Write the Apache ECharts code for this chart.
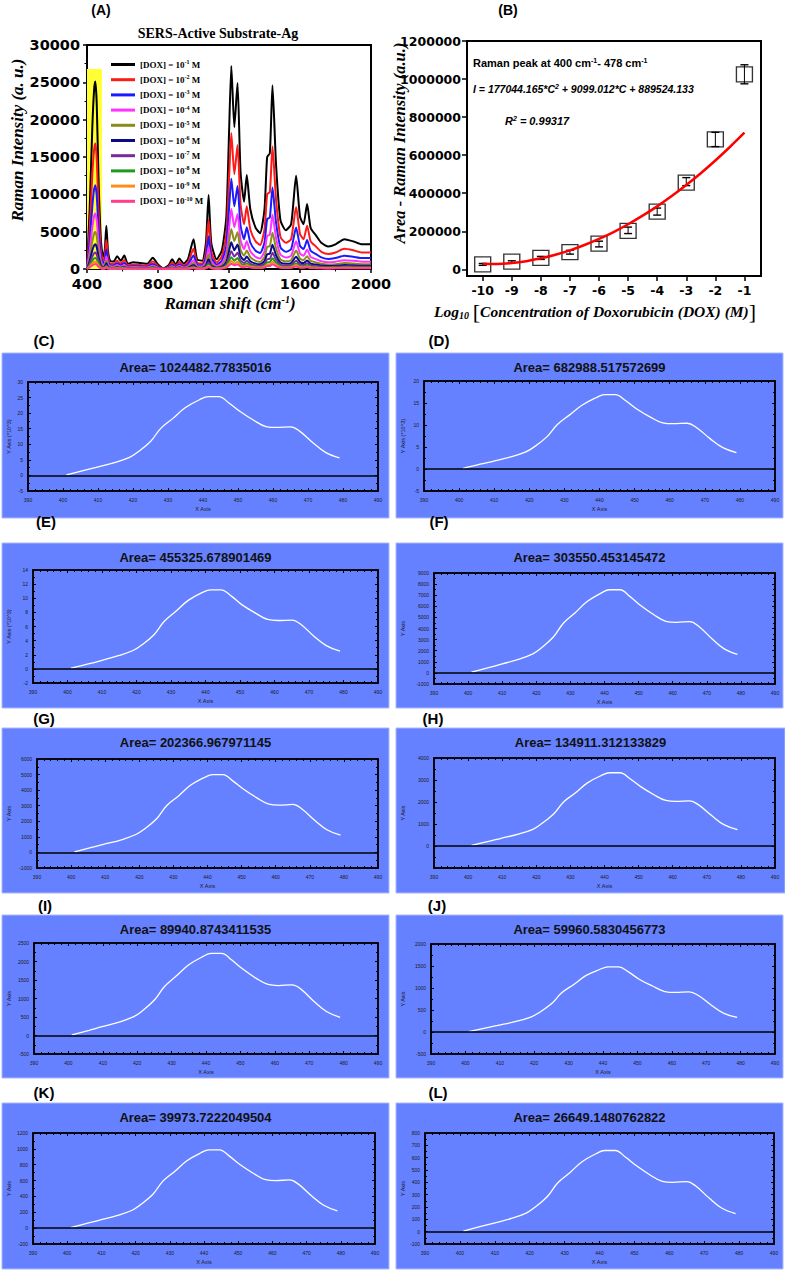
<!DOCTYPE html>
<html><head><meta charset="utf-8">
<script src="https://cdn.jsdelivr.net/npm/echarts@6.0.0/dist/echarts.min.js"></script>
<style>html,body{margin:0;padding:0;background:#fff}#c{width:785px;height:1270px}</style>
</head><body><div id="c"></div>
<script>
// ---------------- DATA ----------------
// Panel A: SERS spectra
const ramanShift = [400,415,430,440,447,455,465,478,490,500,509,518,530,550,570,590,610,630,660,700,740,770,800,830,860,880,900,920,945,970,1000,1020,1050,1070,1085,1100,1130,1160,1185,1200,1213,1230,1248,1265,1285,1300,1320,1350,1375,1400,1415,1430,1445,1465,1490,1520,1550,1578,1600,1620,1640,1660,1690,1720,1760,1800,1850,1900,1950,2000];
const dox1 = [300,8000,19000,24000,25100,22000,12000,4000,1600,2500,5800,2500,1100,1000,1700,1100,1800,700,900,800,700,1500,600,100,500,1300,600,1400,700,1400,4000,1300,1100,3500,9900,3500,1300,2500,7000,18000,27200,19000,24900,13000,9000,12600,8000,5500,4800,8000,15000,15500,24600,14000,6500,5200,6000,12500,7000,6000,8700,5500,4500,3500,3000,3300,4000,3700,3300,3300];
const dox2 = [200,5300,12700,16000,16800,14700,8000,2700,1100,1700,3900,1700,730,670,1100,730,1200,470,600,530,470,1000,400,70,330,870,400,930,470,930,2700,870,730,2300,6600,2300,870,1700,4700,12000,18200,12700,16600,8700,6000,8400,5300,3700,3200,5300,10000,10300,16400,9300,4300,3500,4000,8300,4700,4000,5800,3700,3000,2300,2000,2200,2700,2500,2200,2200];
const dox3 = [130,3550,8400,10700,11200,9800,5300,1800,710,1100,2600,1100,490,440,760,490,800,310,400,360,310,670,270,44,220,580,270,620,310,620,1800,580,490,1550,4400,1550,580,1100,3100,8000,12100,8400,11100,5800,4000,5600,3550,2440,2130,3550,6700,6900,10900,6200,2900,2300,2670,5550,3100,2670,3870,2440,2000,1550,1330,1470,1780,1640,1470,1470];
const dox4 = [90,2370,5600,7100,7430,6500,3550,1180,470,740,1720,740,330,300,500,330,530,210,270,240,210,440,180,30,150,380,180,410,210,410,1180,380,330,1040,2930,1040,380,740,2070,5330,8050,5600,7370,3850,2660,3730,2370,1630,1420,2370,4440,4590,7280,4140,1920,1540,1780,3700,2070,1780,2580,1630,1330,1040,890,980,1180,1100,980,980];
const dox5 = [60,1580,3750,4740,4960,4350,2370,790,320,490,1150,490,220,200,340,220,360,140,180,160,140,300,120,20,100,260,120,280,140,280,790,260,220,690,1960,690,260,490,1380,3560,5370,3750,4920,2570,1780,2490,1580,1090,950,1580,2960,3060,4860,2770,1280,1030,1190,2470,1380,1190,1720,1090,890,690,590,650,790,730,650,650];
const dox6 = [40,1050,2500,3160,3300,2900,1580,530,210,330,760,330,145,130,220,145,240,90,120,105,90,200,80,13,66,170,80,185,90,185,530,170,145,460,1300,460,170,330,920,2370,3580,2500,3280,1710,1190,1660,1050,720,630,1050,1980,2040,3240,1840,860,690,790,1650,920,790,1150,720,590,460,400,430,530,490,430,430];
const dox7 = [26,700,1670,2110,2200,1930,1050,350,140,220,510,220,97,88,150,97,160,61,79,70,61,130,53,9,44,114,53,123,61,123,350,114,97,307,870,307,114,220,615,1580,2390,1670,2190,1140,790,1110,700,480,420,700,1320,1360,2160,1230,570,460,530,1100,615,530,760,480,395,307,263,290,350,325,290,290];
const dox8 = [18,470,1110,1400,1470,1290,700,234,94,146,340,146,64,59,100,64,105,41,53,47,41,88,35,6,29,76,35,82,41,82,234,76,64,205,580,205,76,146,410,1050,1590,1110,1460,760,530,740,470,320,280,470,880,910,1440,820,380,300,350,730,410,350,510,320,263,205,175,193,234,216,193,193];
const dox9 = [12,312,740,940,980,860,470,156,62,98,226,98,43,39,66,43,70,27,35,31,27,59,23,4,20,51,23,55,27,55,156,51,43,137,386,137,51,98,273,700,1060,740,970,507,350,490,312,215,187,312,585,605,960,546,254,203,234,488,273,234,340,215,175,137,117,129,156,144,129,129];
const dox10 = [8,208,494,624,653,572,312,104,42,65,151,65,29,26,44,29,47,18,23,21,18,39,16,3,13,34,16,36,18,36,104,34,29,91,257,91,34,65,182,468,707,494,647,338,234,328,208,143,125,208,390,403,640,364,169,135,156,325,182,156,226,143,117,91,78,86,104,96,86,86];
const doxExponents = ['-1','-2','-3','-4','-5','-6','-7','-8','-9','-10'];
const highlightBand = [400, 0, 484, 26800];

// Panel B: calibration
const logConc = [-10,-9,-8,-7,-6,-5,-4,-3,-2,-1];
const areaValues = [26649.148,39973.722,59960.583,89940.874,134911.312,202366.968,303550.453,455325.679,682988.518,1024482.778];
const errHigh = [31000,45000,68000,100000,148000,222000,322000,482000,720000,1075000];
const errLow = [21000,35000,52000,80000,118000,188000,285000,440000,645000,975000];
const fitLogC = [-10,-9.5,-9,-8.5,-8,-7.5,-7,-6.5,-6,-5.5,-5,-4.5,-4,-3.5,-3,-2.5,-2,-1.5,-1];
const fitArea = [30000,28000,33000,43000,58000,77000,100000,128000,160000,196000,237000,282000,331000,385000,443000,505000,572000,643000,718000];
const bTicksY = [0,200000,400000,600000,800000,1000000,1200000];

// Panels C-L: peak integration curves
const peakShift = [401,406,409.5,415,419,421,425,428,431.5,435,439,441.5,444.5,447.5,450.5,454.5,458,461,465,467.5,471.5,475,479];
const areaC = [0.2,1.6,2.6,4.2,5.8,7.2,10.9,15.2,18.4,21.8,24.3,25.3,25.3,23.2,20.6,17.7,15.7,15.4,15.6,14.3,10.4,7.4,5.6];
const areaD = [0.1,1.1,1.7,2.8,3.9,4.8,7.3,10.1,12.3,14.5,16.2,16.9,16.9,15.5,13.7,11.8,10.5,10.3,10.4,9.5,6.9,4.9,3.7];
const areaE = [0.1,0.7,1.15,1.9,2.6,3.2,4.8,6.7,8.2,9.7,10.8,11.2,11.2,10.3,9.1,7.9,7.0,6.85,6.9,6.35,4.6,3.3,2.5];
const areaF = [60,470,770,1240,1720,2130,3230,4500,5450,6450,7190,7490,7490,6870,6100,5240,4650,4560,4620,4230,3080,2190,1660];
const areaG = [40,320,510,830,1150,1420,2150,3000,3630,4310,4800,5000,5000,4580,4070,3500,3100,3040,3080,2820,2050,1460,1110];
const areaH = [30,210,340,550,760,950,1440,2000,2420,2870,3200,3330,3330,3060,2710,2330,2070,2030,2050,1880,1370,970,740];
const areaI = [20,140,230,370,510,630,960,1330,1620,1910,2130,2220,2220,2040,1810,1550,1380,1350,1370,1260,910,650,490];
const areaJ = [10,95,150,245,340,420,640,890,1080,1280,1420,1480,1480,1360,1200,1040,920,900,910,840,610,430,330];
const areaK = [8,62,100,164,226,281,425,593,718,850,948,987,987,905,803,690,612,600,608,558,406,289,218];
const areaL = [5,42,68,109,151,187,283,395,478,567,632,658,658,603,536,460,408,400,406,372,270,192,146];
const smallTitles = ['Area= 1024482.77835016','Area= 682988.517572699','Area= 455325.678901469','Area= 303550.453145472','Area= 202366.967971145','Area= 134911.312133829','Area= 89940.8743411535','Area= 59960.5830456773','Area= 39973.7222049504','Area= 26649.1480762822'];
const smallLetters = ['(C)','(D)','(E)','(F)','(G)','(H)','(I)','(J)','(K)','(L)'];
const smallYMin = [-5,-5,-2,-1000,-1000,-1000,-500,-500,-200,-100];
const smallYMax = [30,20,14,9000,6000,4000,2500,2000,1200,800];
const smallYStep = [5,5,2,1000,1000,1000,500,500,200,100];
const smallYName = ['Y Axis (*10^3)','Y Axis (*10^3)','Y Axis (*10^3)','Y Axis','Y Axis','Y Axis','Y Axis','Y Axis','Y Axis','Y Axis'];

// ---------------- LAYOUT / STYLE ----------------
const doxSeriesData = [dox1,dox2,dox3,dox4,dox5,dox6,dox7,dox8,dox9,dox10];
const doxColors = ['#000000','#ff1a1a','#1a1aff','#ff33ff','#8c8c1a','#0a0a8c','#7a2a9a','#1f9a1f','#ff8c1a','#ff3d8c'];
const smallData = [areaC,areaD,areaE,areaF,areaG,areaH,areaI,areaJ,areaK,areaL];
const boxes = [[2,353,389,518],[396,353,783,518],[2,543,389,708],[396,543,783,708],[2,728,389,893],[396,728,785,893],[2,915,389,1078],[396,915,783,1078],[2,1103,389,1269],[396,1103,783,1269]];
const inners = [[28,382,378,491],[424,381,775,491],[33,570,378,683],[434,573,775,684],[37,759,378,868],[434,758,775,868],[34,943,378,1054],[431,944,775,1054],[33,1133,375,1244],[425,1133,774,1244]];
const letterPos = [[44,340],[439,340],[46,521],[439,521],[44,718],[433,718],[45,905],[437,905],[44,1092],[438,1092]];

const SANS = 'Liberation Sans', SERIF = 'Liberation Serif', DJ = 'DejaVu Sans';
const plain = v => String(v);
const doxNames = doxExponents.map(e => '[DOX] = 10^' + e + ' M');

const grids = [], xAxes = [], yAxes = [], series = [], graphics = [];

// ---- Panel A ----
grids.push({left:87, top:45, width:284, height:224, show:true, borderColor:'#000', borderWidth:2, backgroundColor:'transparent'});
xAxes.push({gridIndex:0, type:'value', min:400, max:2000, interval:400,
  axisLine:{show:true, onZero:false, lineStyle:{color:'#000', width:2}},
  axisTick:{show:true, length:4, lineStyle:{color:'#000', width:1.5}},
  minorTick:{show:true, splitNumber:2, length:2.5, lineStyle:{color:'#000', width:1}},
  axisLabel:{formatter:plain, fontFamily:DJ, fontWeight:'bold', fontSize:14.5, color:'#000', margin:7},
  splitLine:{show:false}});
yAxes.push({gridIndex:0, type:'value', min:0, max:30000, interval:5000,
  axisLine:{show:true, onZero:false, lineStyle:{color:'#000', width:2}},
  axisTick:{show:true, length:4, lineStyle:{color:'#000', width:1.5}},
  minorTick:{show:true, splitNumber:2, length:2.5, lineStyle:{color:'#000', width:1}},
  axisLabel:{formatter:plain, fontFamily:DJ, fontWeight:'bold', fontSize:14.5, color:'#000', margin:7},
  splitLine:{show:false}});
series.push({type:'custom', xAxisIndex:0, yAxisIndex:0, z:1, silent:true,
  data:[highlightBand], encode:{x:[0,2], y:[1,3]},
  renderItem:(p, api) => {
    const a = api.coord([api.value(0), api.value(1)]);
    const b = api.coord([api.value(2), api.value(3)]);
    return {type:'rect', shape:{x:a[0], y:b[1], width:b[0]-a[0], height:a[1]-b[1]}, style:{fill:'#ffff33'}};
  }});
doxSeriesData.forEach((vals, k) => {
  series.push({name:doxNames[k], type:'line', xAxisIndex:0, yAxisIndex:0, z:3,
    data: ramanShift.map((x, i) => [x, vals[i]]),
    showSymbol:false, symbol:'none', smooth:0.2,
    lineStyle:{width:2, color:doxColors[k]}, itemStyle:{color:doxColors[k]}});
});

// ---- Panel B ----
grids.push({left:467, top:41, width:294, height:235, show:true, borderColor:'#000', borderWidth:2, backgroundColor:'transparent'});
xAxes.push({gridIndex:1, type:'value', min:-10.54, max:-0.43,
  axisLine:{show:true, onZero:false, lineStyle:{color:'#000', width:2}},
  axisTick:{show:true, length:5, customValues:logConc, lineStyle:{color:'#000', width:1.5}},
  axisLabel:{customValues:logConc, formatter:plain, fontFamily:DJ, fontWeight:'bold', fontSize:12.5, color:'#000', margin:8},
  splitLine:{show:false}});
yAxes.push({gridIndex:1, type:'value', min:-35000, max:1200000,
  axisLine:{show:true, onZero:false, lineStyle:{color:'#000', width:2}},
  axisTick:{show:true, length:5, customValues:bTicksY, lineStyle:{color:'#000', width:1.5}},
  axisLabel:{customValues:bTicksY, formatter:plain, fontFamily:DJ, fontWeight:'bold', fontSize:12.5, color:'#000', margin:6},
  splitLine:{show:false}});
series.push({type:'scatter', xAxisIndex:1, yAxisIndex:1, z:3,
  data: logConc.map((c, i) => [c, areaValues[i]]),
  symbol:'rect', symbolSize:[16,15],
  itemStyle:{color:'rgba(255,255,255,0)', borderColor:'#000', borderWidth:1.3}});
series.push({type:'custom', xAxisIndex:1, yAxisIndex:1, z:4,
  data: logConc.map((c, i) => [c, errHigh[i], errLow[i]]), encode:{x:0, y:[1,2]},
  renderItem:(p, api) => {
    const hi = api.coord([api.value(0), api.value(1)]);
    const lo = api.coord([api.value(0), api.value(2)]);
    const w = 4;
    return {type:'group', children:[
      {type:'line', shape:{x1:hi[0], y1:hi[1], x2:lo[0], y2:lo[1]}, style:{stroke:'#000', lineWidth:1}},
      {type:'line', shape:{x1:hi[0]-w, y1:hi[1], x2:hi[0]+w, y2:hi[1]}, style:{stroke:'#000', lineWidth:1.4}},
      {type:'line', shape:{x1:lo[0]-w, y1:lo[1], x2:lo[0]+w, y2:lo[1]}, style:{stroke:'#000', lineWidth:1.4}}
    ]};
  }});
series.push({type:'line', xAxisIndex:1, yAxisIndex:1, z:5,
  data: fitLogC.map((c, i) => [c, fitArea[i]]),
  showSymbol:false, symbol:'none', smooth:0.4, lineStyle:{color:'#ff0000', width:2.5}});

// ---- Panels C-L ----
smallData.forEach((vals, i) => {
  const g = grids.length;
  const [bx0, by0, bx1, by1] = boxes[i];
  const [ix0, iy0, ix1, iy1] = inners[i];
  grids.push({left:ix0, top:iy0, width:ix1-ix0, height:iy1-iy0, show:true, borderColor:'#000', borderWidth:1.5, backgroundColor:'transparent'});
  const tickStyle = {color:'#000', width:1};
  const xb = xAxes.length;
  xAxes.push({gridIndex:g, type:'value', min:390, max:490, interval:10, position:'bottom',
    axisLine:{show:true, onZero:false, lineStyle:{color:'#000', width:1.5}},
    axisTick:{show:true, inside:true, length:3, lineStyle:tickStyle},
    minorTick:{show:true, splitNumber:5, length:2, lineStyle:tickStyle},
    axisLabel:{formatter:plain, fontFamily:SANS, fontSize:5, color:'#1a1a1a', margin:6},
    splitLine:{show:false},
    name:'X Axis', nameLocation:'middle', nameGap:15, nameTextStyle:{fontFamily:SANS, fontSize:5.5, color:'#1a1a1a'}});
  xAxes.push({gridIndex:g, type:'value', min:390, max:490, interval:10, position:'top',
    axisLine:{show:true, onZero:false, lineStyle:{color:'#000', width:1.5}},
    axisTick:{show:true, inside:true, length:3, lineStyle:tickStyle},
    minorTick:{show:true, splitNumber:5, length:2, lineStyle:tickStyle},
    axisLabel:{show:false}, splitLine:{show:false}});
  const yl = yAxes.length;
  yAxes.push({gridIndex:g, type:'value', min:smallYMin[i], max:smallYMax[i], interval:smallYStep[i], position:'left',
    axisLine:{show:true, onZero:false, lineStyle:{color:'#000', width:1.5}},
    axisTick:{show:true, inside:true, length:3, lineStyle:tickStyle},
    minorTick:{show:true, splitNumber:2, length:2, lineStyle:tickStyle},
    axisLabel:{formatter:plain, fontFamily:SANS, fontSize:5, color:'#1a1a1a', margin:5, showMinLabel: i !== 5},
    splitLine:{show:false},
    name:smallYName[i], nameLocation:'middle', nameGap:(ix0-bx0)-10, nameTextStyle:{fontFamily:SANS, fontSize:5.5, color:'#1a1a1a'}});
  yAxes.push({gridIndex:g, type:'value', min:smallYMin[i], max:smallYMax[i], interval:smallYStep[i], position:'right',
    axisLine:{show:true, onZero:false, lineStyle:{color:'#000', width:1.5}},
    axisTick:{show:true, inside:true, length:3, lineStyle:tickStyle},
    minorTick:{show:true, splitNumber:2, length:2, lineStyle:tickStyle},
    axisLabel:{show:false}, splitLine:{show:false}});
  series.push({type:'line', xAxisIndex:xb, yAxisIndex:yl, z:3,
    data: peakShift.map((x, j) => [x, vals[j]]),
    showSymbol:false, symbol:'none', smooth:0.4,
    lineStyle:{color:'#ffffff', width:1.3},
    markLine:{silent:true, symbol:['none','none'], label:{show:false},
      lineStyle:{color:'#000', width:1.5, type:'solid'}, data:[{yAxis:0}]}});
  graphics.push({type:'rect', z:-10, shape:{x:bx0, y:by0, width:bx1-bx0, height:by1-by0},
    style:{fill:'#6681ff', stroke:'#a9b8ff', lineWidth:1}});
  graphics.push({type:'text', z:100, x:(bx0+bx1)/2, y:by0+14,
    style:{text:smallTitles[i], fontFamily:SANS, fontWeight:'bold', fontSize:13, fill:'#111', align:'center', verticalAlign:'middle'}});
  graphics.push({type:'text', z:100, x:letterPos[i][0], y:letterPos[i][1],
    style:{text:smallLetters[i], fontFamily:SANS, fontWeight:'bold', fontSize:15, fill:'#000', align:'center', verticalAlign:'middle'}});
});

// ---- Texts for A and B ----
const supRich = (fs, fam, style) => ({fontSize:fs, fontFamily:fam, fontWeight:'bold', fontStyle:style||'normal', padding:[0,0,Math.round(fs*0.8),0], fill:'#000'});
graphics.push({type:'text', z:100, x:101, y:10, style:{text:'(A)', fontFamily:SANS, fontWeight:'bold', fontSize:14, fill:'#000', align:'center', verticalAlign:'middle'}});
graphics.push({type:'text', z:100, x:508, y:10, style:{text:'(B)', fontFamily:SANS, fontWeight:'bold', fontSize:14, fill:'#000', align:'center', verticalAlign:'middle'}});
graphics.push({type:'text', z:100, x:218, y:33, style:{text:'SERS-Active Substrate-Ag', fontFamily:SERIF, fontWeight:'bold', fontSize:14, fill:'#000', align:'center', verticalAlign:'middle'}});
graphics.push({type:'text', z:100, x:17, y:140, rotation:Math.PI/2, style:{text:'Raman Intensity (a. u.)', fontFamily:SERIF, fontWeight:'bold', fontStyle:'italic', fontSize:17, fill:'#000', align:'center', verticalAlign:'middle'}});
graphics.push({type:'text', z:100, x:230, y:303, style:{text:'Raman shift (cm{s|-1})', fontFamily:SERIF, fontWeight:'bold', fontStyle:'italic', fontSize:17, fill:'#000', align:'center', verticalAlign:'middle',
  rich:{s:supRich(10, SERIF, 'italic')}}});
graphics.push({type:'text', z:100, x:399, y:143, rotation:Math.PI/2, style:{text:'Area - Raman Intensity (a.u.)', fontFamily:SERIF, fontWeight:'bold', fontStyle:'italic', fontSize:16.5, fill:'#000', align:'center', verticalAlign:'middle'}});
graphics.push({type:'text', z:100, x:595, y:311, style:{text:'{i|Log}{sub|10} {br|[}{i|Concentration of Doxorubicin (DOX) (M)}{br|]}', fontFamily:SERIF, fontSize:15.5, fill:'#000', align:'center', verticalAlign:'middle',
  rich:{i:{fontFamily:SERIF, fontWeight:'bold', fontStyle:'italic', fontSize:15.5, fill:'#000'},
        sub:{fontFamily:SERIF, fontWeight:'bold', fontStyle:'italic', fontSize:10, padding:[9,0,0,0], fill:'#000'},
        br:{fontFamily:SERIF, fontSize:22, fill:'#000'}}}});
graphics.push({type:'text', z:100, x:473, y:63, style:{text:'Raman peak at 400 cm{s|-1}- 478 cm{s|-1}', fontFamily:SANS, fontWeight:'bold', fontSize:11, fill:'#000', align:'left', verticalAlign:'middle',
  rich:{s:supRich(7, SANS)}}});
graphics.push({type:'text', z:100, x:473, y:89, style:{text:'I = 177044.165*C{s|2} + 9099.012*C + 889524.133', fontFamily:SANS, fontWeight:'bold', fontStyle:'italic', fontSize:10.5, fill:'#000', align:'left', verticalAlign:'middle',
  rich:{s:supRich(7, SANS, 'italic')}}});
graphics.push({type:'text', z:100, x:505, y:121, style:{text:'R{s|2} = 0.99317', fontFamily:SANS, fontWeight:'bold', fontStyle:'italic', fontSize:11, fill:'#000', align:'left', verticalAlign:'middle',
  rich:{s:supRich(7, SANS, 'italic')}}});

const chart = echarts.init(document.getElementById('c'), null, {renderer:'svg'});
chart.setOption({
  animation:false,
  backgroundColor:'#ffffff',
  grid: grids, xAxis: xAxes, yAxis: yAxes, series: series, graphic: {elements: graphics},
  legend: {
    data: doxNames, orient:'vertical', left:111, top:59, padding:0, itemWidth:24, itemHeight:3, itemGap:5.2, icon:'rect', selectedMode:false,
    textStyle:{rich:{
      t:{fontFamily:SERIF, fontWeight:'bold', fontSize:9, color:'#000', lineHeight:11},
      s:{fontFamily:SERIF, fontWeight:'bold', fontSize:6, color:'#000', padding:[0,0,5,0]}
    }},
    formatter: name => '{t|[DOX] = 10}{s|' + doxExponents[doxNames.indexOf(name)] + '}{t| M}'
  }
});
</script></body></html>
